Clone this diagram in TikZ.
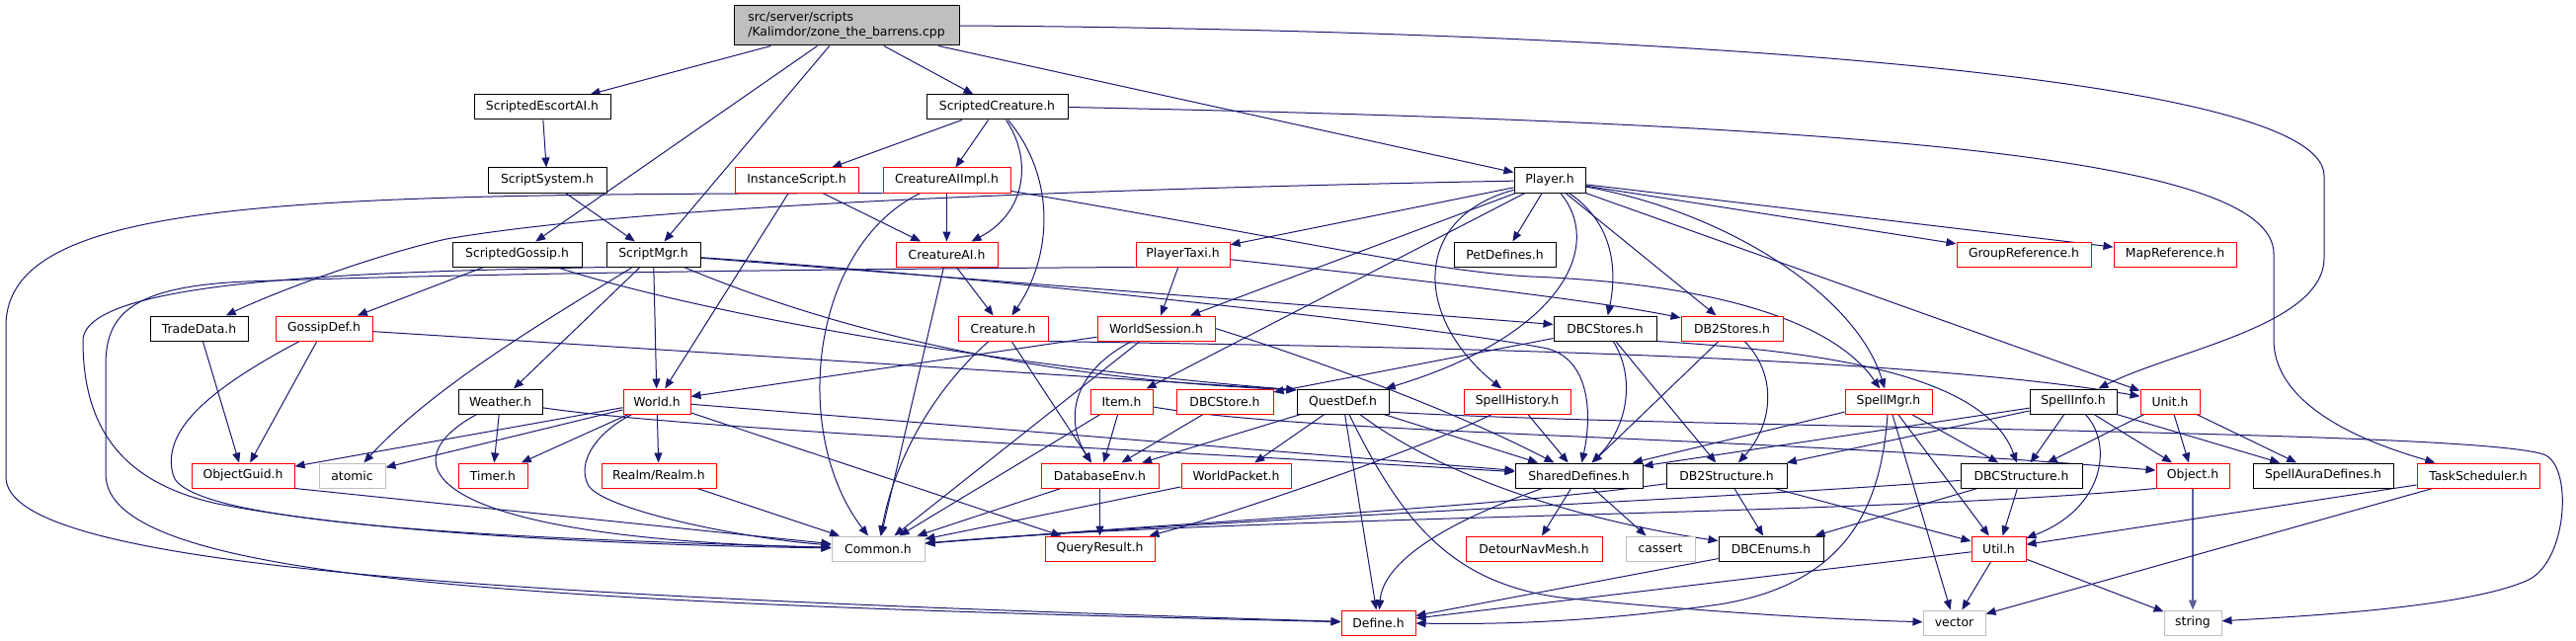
\documentclass[tikz,border=0pt]{standalone}
\usepackage{fontspec}
\setmainfont{DejaVu Sans}
\usetikzlibrary{arrows.meta,backgrounds}
\definecolor{edgecol}{HTML}{191970}
\definecolor{boxgrey}{HTML}{BFBFBF}
\newcommand{\mknode}[6]{\node[#1, minimum width={(#4-#3)*0.75pt}] (#2) at ({(#3+#4)/2},#5) {#6};}
\begin{document}
\begin{tikzpicture}[x=0.75pt,y=-0.75pt,
  every node/.style={font=\fontsize{9.3}{11}\selectfont, inner sep=0pt, minimum height=18.75pt, line width=0.75pt, fill=white, text=black},
  bk/.style={draw=black},
  rd/.style={draw=red},
  gy/.style={draw=boxgrey},
  dep/.style={draw=edgecol, line width=0.75pt, -{Triangle[length=7.5pt,width=6pt]}},
]
\useasboundingbox (0,0) rectangle (2608,649);
% nodes
\node[draw=black, fill=boxgrey, minimum width={228*0.75pt}, minimum height={40*0.75pt}, align=left] (root) at (857,26) {src/server/scripts\\/Kalimdor/zone\_the\_barrens.cpp};
\mknode{bk}{sescort}{480}{618}{108.5}{ScriptedEscortAI.h}
\mknode{bk}{screature}{938}{1081}{108.5}{ScriptedCreature.h}
\mknode{bk}{ssystem}{494}{614}{182.5}{ScriptSystem.h}
\mknode{rd}{iscript}{744}{869}{182.5}{InstanceScript.h}
\mknode{rd}{caiimpl}{894}{1023}{182.5}{CreatureAIImpl.h}
\mknode{bk}{player}{1533}{1605}{182.5}{Player.h}
\mknode{bk}{sgossip}{458}{589}{257.5}{ScriptedGossip.h}
\mknode{bk}{smgr}{614}{709}{257.5}{ScriptMgr.h}
\mknode{rd}{cai}{907}{1010}{257.5}{CreatureAI.h}
\mknode{rd}{ptaxi}{1150}{1245}{257.5}{PlayerTaxi.h}
\mknode{bk}{petdef}{1472}{1575}{257.5}{PetDefines.h}
\mknode{rd}{groupref}{1981}{2117}{257.5}{GroupReference.h}
\mknode{rd}{mapref}{2140}{2264}{257.5}{MapReference.h}
\mknode{bk}{trade}{152}{251}{332.5}{TradeData.h}
\mknode{rd}{gossipdef}{279}{377}{332.5}{GossipDef.h}
\mknode{rd}{creature}{970}{1061}{332.5}{Creature.h}
\mknode{rd}{wsession}{1111}{1230}{332.5}{WorldSession.h}
\mknode{bk}{dbcstores}{1573}{1677}{332.5}{DBCStores.h}
\mknode{rd}{db2stores}{1702}{1805}{332.5}{DB2Stores.h}
\mknode{bk}{weather}{464}{549}{406.5}{Weather.h}
\mknode{rd}{world}{631}{699}{406.5}{World.h}
\mknode{rd}{item}{1104}{1167}{406.5}{Item.h}
\mknode{rd}{dbcstore}{1191}{1289}{406.5}{DBCStore.h}
\mknode{bk}{questdef}{1313}{1406}{406.5}{QuestDef.h}
\mknode{rd}{shistory}{1482}{1590}{406.5}{SpellHistory.h}
\mknode{rd}{spellmgr}{1868}{1956}{406.5}{SpellMgr.h}
\mknode{bk}{spellinfo}{2055}{2143}{406.5}{SpellInfo.h}
\mknode{rd}{unit}{2167}{2227}{406.5}{Unit.h}
\mknode{rd}{oguid}{194}{298}{481.5}{ObjectGuid.h}
\mknode{gy}{atomic}{323}{390}{481.5}{atomic}
\mknode{rd}{timer}{464}{534}{481.5}{Timer.h}
\mknode{rd}{realm}{609}{725}{481.5}{Realm/Realm.h}
\mknode{rd}{dbenv}{1054}{1173}{481.5}{DatabaseEnv.h}
\mknode{rd}{wpacket}{1196}{1307}{481.5}{WorldPacket.h}
\mknode{bk}{shared}{1534}{1663}{481.5}{SharedDefines.h}
\mknode{bk}{db2struct}{1687}{1809}{481.5}{DB2Structure.h}
\mknode{bk}{dbcstruct}{1985}{2108}{481.5}{DBCStructure.h}
\mknode{rd}{object}{2183}{2257}{481.5}{Object.h}
\mknode{bk}{auradef}{2281}{2423}{481.5}{SpellAuraDefines.h}
\mknode{rd}{tasksch}{2447}{2571}{481.5}{TaskScheduler.h}
\mknode{gy}{common}{842}{936}{555.5}{Common.h}
\mknode{rd}{qresult}{1058}{1169}{555.5}{QueryResult.h}
\mknode{rd}{detour}{1484}{1622}{555.5}{DetourNavMesh.h}
\mknode{gy}{cassert}{1646}{1716}{555.5}{cassert}
\mknode{bk}{dbcenums}{1740}{1846}{555.5}{DBCEnums.h}
\mknode{rd}{util}{1996}{2051}{555.5}{Util.h}
\mknode{rd}{define}{1358}{1433}{630.5}{Define.h}
\mknode{gy}{vector}{1947}{2010}{630.5}{vector}
\mknode{gy}{string}{2191}{2249}{630.5}{string}
\begin{pgfonlayer}{background}
\fill[white] (0,0) rectangle (2608,649);
% root
\draw[dep] (root) -- (sescort);
\draw[dep] (root) -- (sgossip);
\draw[dep] (root) -- (smgr);
\draw[dep] (root) -- (screature);
\draw[dep] (root) -- (player);
\draw[dep] (root.east) .. controls (1600,30) and (2353,70) .. (2353,178) -- (2353,261) .. controls (2353,330) and (2200,355) .. (spellinfo);
\draw[dep] (sescort) -- (ssystem);
\draw[dep] (ssystem) -- (smgr);
% ScriptedCreature
\draw[dep] (screature) -- (iscript);
\draw[dep] (screature) -- (caiimpl);
\draw[dep] (screature) .. controls (1045,160) and (1040,215) .. (cai);
\draw[dep] (screature) .. controls (1070,180) and (1065,260) .. (creature);
\draw[dep] (screature.east) .. controls (1900,125) and (2302,160) .. (2302,257) -- (2302,344) .. controls (2302,420) and (2420,455) .. (tasksch);
% InstanceScript, CreatureAIImpl
\draw[dep] (iscript) -- (cai);
\draw[dep] (iscript) -- (world);
\draw[dep] (caiimpl) -- (cai);
\draw[dep] (caiimpl) .. controls (820,250) and (800,440) .. (common);
\draw[dep] (caiimpl.south west) .. controls (300,197) and (6,200) .. (6,330) -- (6,483) .. controls (6,575) and (500,603) .. (define);
\draw[dep] (caiimpl) .. controls (1300,240) and (1450,275) .. (1550,280) .. controls (1750,288) and (1860,330) .. (spellmgr);
% Player
\draw[dep] (player) .. controls (900,195) and (590,218) .. (452,242) .. controls (380,258) and (280,295) .. (trade);
\draw[dep] (player) -- (ptaxi);
\draw[dep] (player) -- (wsession);
\draw[dep] (player) -- (item);
\draw[dep] (player) -- (petdef);
\draw[dep] (player) .. controls (1430,220) and (1430,320) .. (shistory);
\draw[dep] (player) .. controls (1625,250) and (1580,340) .. (questdef);
\draw[dep] (player) .. controls (1640,230) and (1635,285) .. (dbcstores);
\draw[dep] (player) -- (db2stores);
\draw[dep] (player) -- (groupref);
\draw[dep] (player) -- (mapref);
\draw[dep] (player) .. controls (1750,215) and (1880,300) .. (spellmgr);
\draw[dep] (player) -- (unit);
% ScriptedGossip
\draw[dep] (sgossip) -- (gossipdef);
\draw[dep] (sgossip) .. controls (700,315) and (1000,370) .. ([yshift=-1pt]questdef.north west);
% ScriptMgr
\draw[dep] (smgr) -- (world);
\draw[dep] (smgr) -- (weather);
\draw[dep] (smgr) .. controls (560,320) and (440,390) .. (atomic);
\draw[dep] (smgr) .. controls (870,345) and (1080,385) .. ([yshift=-1pt]questdef.north west);
\draw[dep] (smgr) -- (dbcstores);
\draw[dep] (smgr) .. controls (1000,280) and (1450,330) .. (1567,353) .. controls (1610,365) and (1612,420) .. (shared);
\draw[dep] (smgr.south west) .. controls (400,275) and (84,280) .. (84,345) .. controls (84,440) and (130,490) .. (220,510) .. controls (400,545) and (700,553) .. (common);
% CreatureAI
\draw[dep] (cai) -- (creature);
\draw[dep] (cai) -- (common);
% PlayerTaxi
\draw[dep] (ptaxi) -- (wsession);
\draw[dep] (ptaxi) .. controls (1450,285) and (1620,305) .. (db2stores);
\draw[dep] (ptaxi.south west) .. controls (900,272) and (500,276) .. (250,285) .. controls (130,290) and (107,320) .. (107,370) -- (107,480) .. controls (107,585) and (500,610) .. (define);
% TradeData, GossipDef
\draw[dep] (trade) -- (oguid);
\draw[dep] (gossipdef) -- (oguid);
\draw[dep] (gossipdef) -- ([yshift=-1pt]questdef.north west);
\draw[dep] (gossipdef) .. controls (200,400) and (165,440) .. (175,480) .. controls (185,530) and (500,545) .. (common);
% Creature
\draw[dep] (creature) .. controls (940,400) and (905,470) .. (common);
\draw[dep] (creature) -- (dbenv);
\draw[dep] (creature.south east) .. controls (1300,350) and (1900,355) .. (unit);
% WorldSession
\draw[dep] (wsession) -- (world);
\draw[dep] (wsession) .. controls (1080,380) and (1080,430) .. (dbenv);
\draw[dep] (wsession) -- (common);
\draw[dep] (wsession.east) .. controls (1350,370) and (1480,420) .. (shared);
% DBCStores, DB2Stores
\draw[dep] (dbcstores) -- (dbcstore);
\draw[dep] (dbcstores) .. controls (1655,380) and (1650,430) .. (shared);
\draw[dep] (dbcstores) -- (db2struct);
\draw[dep] (dbcstores.south east) .. controls (1850,356) and (2010,380) .. (dbcstruct);
\draw[dep] (db2stores) -- (shared);
\draw[dep] (db2stores) .. controls (1800,380) and (1795,430) .. (db2struct);
% Weather, World
\draw[dep] (weather) -- (timer);
\draw[dep] (weather) .. controls (700,435) and (1150,455) .. (shared);
\draw[dep] (weather) .. controls (390,470) and (430,545) .. (common);
\draw[dep] (world) -- (oguid);
\draw[dep] (world) -- (atomic);
\draw[dep] (world) -- (timer);
\draw[dep] (world) -- (realm);
\draw[dep] (world) .. controls (600,440) and (585,470) .. (595,490) .. controls (605,515) and (750,545) .. (common);
\draw[dep] (world) -- (qresult);
\draw[dep] (world) -- (shared);
% Item, DBCStore
\draw[dep] (item) -- (dbenv);
\draw[dep] (item) -- (common);
\draw[dep] (item) .. controls (1330,440) and (1750,440) .. ([yshift=4pt]object.west);
\draw[dep] (dbcstore) -- (dbenv);
% QuestDef
\draw[dep] (questdef) -- (dbenv);
\draw[dep] (questdef) -- (wpacket);
\draw[dep] (questdef) -- (shared);
\draw[dep] (questdef) -- (define);
\draw[dep] (questdef) .. controls (1470,490) and (1620,530) .. (dbcenums);
\draw[dep] (questdef) .. controls (1420,530) and (1470,590) .. (1580,605) .. controls (1750,622) and (1880,628) .. (vector);
\draw[dep] ([yshift=-8pt]questdef.east) .. controls (1700,434) and (2500,435) .. (2575,460) .. controls (2605,470) and (2600,567) .. (2560,587) .. controls (2500,615) and (2330,624) .. (string);
% SpellHistory, SpellMgr, SpellInfo, Unit
\draw[dep] (shistory) -- (shared);
\draw[dep] (shistory) .. controls (1450,450) and (1250,520) .. (qresult);
\draw[dep] (spellmgr) -- (shared);
\draw[dep] (spellmgr) -- (dbcstruct);
\draw[dep] (spellmgr) -- (util);
\draw[dep] (spellmgr) -- (vector);
\draw[dep] (spellmgr) .. controls (1905,500) and (1880,590) .. (1740,612) .. controls (1600,632) and (1500,632) .. (define);
\draw[dep] (spellinfo) -- (shared);
\draw[dep] (spellinfo) -- (db2struct);
\draw[dep] (spellinfo) -- (dbcstruct);
\draw[dep] (spellinfo) -- (object);
\draw[dep] (spellinfo) .. controls (2140,450) and (2130,515) .. (util);
\draw[dep] (spellinfo) -- (auradef);
\draw[dep] (unit) -- (dbcstruct);
\draw[dep] (unit) -- (object);
\draw[dep] (unit) -- (auradef);
% lower rows
\draw[dep] (oguid.south east) -- (common);
\draw[dep] (realm) -- (common);
\draw[dep] (dbenv) -- (qresult);
\draw[dep] (dbenv) -- (common);
\draw[dep] (wpacket) -- (common);
\draw[dep] (shared) -- (detour);
\draw[dep] (shared) -- (cassert);
\draw[dep] (shared) .. controls (1460,530) and (1400,570) .. (define);
\draw[dep] (db2struct) -- (dbcenums);
\draw[dep] (db2struct) -- (util);
\draw[dep] (db2struct) .. controls (1500,515) and (1250,525) .. ([yshift=4pt]common.east);
\draw[dep] (dbcstruct) -- (dbcenums);
\draw[dep] (dbcstruct) -- (util);
\draw[dep] (dbcstruct) .. controls (1750,505) and (1250,525) .. ([yshift=4pt]common.east);
\draw[dep, draw=edgecol!70!white, line width=1.2pt] (object) -- (string);
\draw[dep] (object.south west) .. controls (1900,522) and (1250,522) .. ([yshift=4pt]common.east);
\draw[dep] (tasksch) -- (util);
\draw[dep] (tasksch) -- (vector);
\draw[dep] (util) -- (vector);
\draw[dep] (util) -- (string);
\draw[dep] (util) -- (define);
\draw[dep] (dbcenums) -- (define);
\end{pgfonlayer}
\end{tikzpicture}
\end{document}
